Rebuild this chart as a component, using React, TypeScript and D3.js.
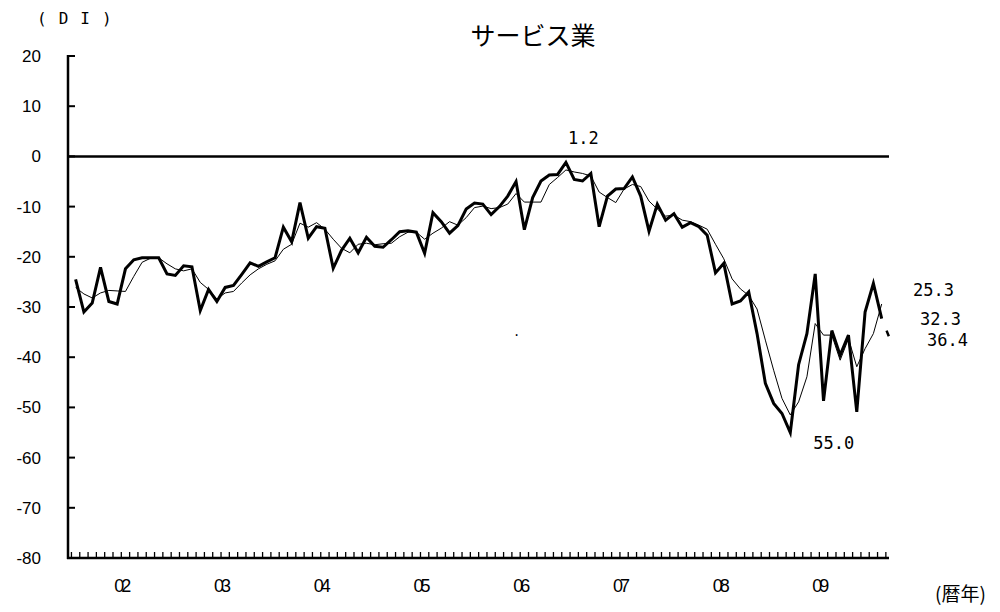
import React from "react";
import * as d3 from "d3";

// Monthly DI, Jan 2002 .. Feb 2010 (thick line)
const diMonthly: number[] = [
  -24.5, -31.0, -29.2, -22.1, -28.9, -29.4, -22.4, -20.6, -20.2, -20.2, -20.2, -23.4,
  -23.7, -21.8, -22.0, -30.7, -26.5, -28.9, -26.1, -25.7, -23.5, -21.2, -21.9, -21.0,
  -20.2, -14.1, -17.0, -9.2, -16.3, -14.0, -14.3, -22.3, -18.7, -16.3, -19.2, -16.1,
  -17.9, -18.1, -16.6, -15.0, -14.8, -15.1, -19.3, -11.2, -13.0, -15.3, -13.8, -10.5,
  -9.3, -9.5, -11.6, -10.0, -7.9, -5.0, -14.6, -8.2, -4.9, -3.7, -3.6, -1.2,
  -4.6, -4.9, -3.4, -14.0, -7.9, -6.5, -6.4, -4.1, -7.9, -14.9, -9.5, -12.7,
  -11.4, -14.1, -13.2, -14.0, -15.7, -23.2, -21.3, -29.4, -28.8, -27.0, -35.3, -45.2,
  -49.2, -51.2, -55.0, -41.5, -35.3, -23.4, -48.7, -34.7, -39.6, -35.6, -50.9, -31.0,
  -25.3, -32.3,
];

// Smoothed DI (thin line)
const diSmoothed: number[] = [
  -26.1, -27.4, -28.2, -27.2, -26.7, -26.8, -26.9, -23.9, -21.1, -20.3, -20.2, -21.4,
  -22.4, -22.8, -22.4, -25.1, -26.5, -28.4, -27.2, -26.9, -25.2, -23.6, -22.4, -21.5,
  -20.8, -18.5, -17.5, -13.3, -14.1, -13.2, -14.5, -16.5, -18.3, -19.2, -17.5, -17.3,
  -17.6, -17.4, -17.3, -16.0, -15.1, -15.1, -16.5, -15.3, -14.3, -13.0, -13.7, -12.2,
  -10.2, -9.9, -10.4, -10.2, -9.5, -7.4, -9.1, -9.1, -9.1, -5.6, -4.2, -2.7,
  -3.1, -3.4, -3.9, -7.1, -8.2, -9.2, -6.5, -5.6, -6.0, -8.9, -10.5, -11.9,
  -11.7, -12.7, -13.0, -13.7, -14.5, -17.5, -20.4, -24.4, -26.4, -27.7, -30.4, -36.6,
  -42.6, -48.2, -51.5, -48.9, -43.9, -33.3, -35.6, -35.6, -40.6, -36.3, -41.9, -38.3,
  -35.3, -29.4,
];

// Outlook value (next month)
const outlookIndex = 98;
const outlookValue = -36.4;

const yTicks: number[] = [20, 10, 0, -10, -20, -30, -40, -50, -60, -70, -80];
const yearLabels: string[] = ["02", "03", "04", "05", "06", "07", "08", "09"];

const peakLabel = { index: 59, value: -1.2, text: "1.2" };
const troughLabel = { index: 86, value: -55.0, text: "55.0" };
const endLabels = [
  { value: -25.3, text: "25.3" },
  { value: -32.3, text: "32.3" },
  { value: -36.4, text: "36.4" },
];

export default function App() {
  const W = 1000;
  const H = 612;
  const x = d3.scaleLinear().domain([0, 97]).range([75.6, 881.7]);
  const y = d3.scaleLinear().domain([-80, 20]).range([558, 56]);
  const axisLeft = 68;
  const axisRight = 889;

  const line = d3
    .line<number>()
    .x((_, i) => x(i))
    .y((d) => y(d));

  const monthTicks = d3.range(0, 99).map((k) => x(k - 0.5));
  const lastI = diMonthly.length - 1;
  const monoFont = "'DejaVu Sans Mono', 'Liberation Mono', monospace";
  const sansFont = "'Liberation Sans', Arial, sans-serif";
  const cjkFont = "'Noto Sans CJK JP', sans-serif";
  const endOffsets = [13, 6, 7];

  return (
    <svg width={W} height={H} style={{ display: "block", position: "absolute", left: 0, top: 0 }}>
      <rect width={W} height={H} fill="#fff" />
      {/* title */}
      <text x={533} y={45} textAnchor="middle" fontFamily={cjkFont} fontSize={25} fill="#000">
        サービス業
      </text>
      <text x={37} y={24} fontFamily={monoFont} fontSize={16} letterSpacing={1.2} fill="#000" xmlSpace="preserve">
        {"( D I )"}
      </text>

      {/* y tick labels */}
      {yTicks.map((t) => (
        <text key={t} x={41} y={y(t) + 6} textAnchor="end" fontFamily={sansFont} fontSize={17} fill="#000">
          {t}
        </text>
      ))}
      {/* y ticks */}
      {yTicks.map((t) => (
        <line key={"yt" + t} x1={axisLeft - 1} x2={axisLeft + 7} y1={y(t)} y2={y(t)} stroke="#000" strokeWidth={2} />
      ))}
      {/* month ticks */}
      {monthTicks.map((mx, k) => (
        <line key={"mt" + k} x1={mx} x2={mx} y1={y(-80)} y2={y(-80) - 6} stroke="#000" strokeWidth={1.3} />
      ))}
      {/* year labels */}
      {yearLabels.map((lab, i) => (
        <text key={lab} x={x(i * 12 + 5.5)} y={592} textAnchor="middle" fontFamily={sansFont} fontSize={18} letterSpacing={-3} fill="#000">
          {lab}
        </text>
      ))}
      <text x={935} y={601} fontFamily={cjkFont} fontSize={19} fill="#000">
        (暦年)
      </text>

      {/* axes */}
      <line x1={axisLeft} x2={axisLeft} y1={y(20) - 1} y2={y(-80) + 1} stroke="#000" strokeWidth={2.5} />
      <line x1={axisLeft - 1} x2={axisRight} y1={y(-80)} y2={y(-80)} stroke="#000" strokeWidth={2.5} />
      <line x1={axisLeft} x2={axisRight} y1={y(0)} y2={y(0)} stroke="#000" strokeWidth={2.5} />

      {/* series */}
      <path d={line(diSmoothed) ?? ""} fill="none" stroke="#000" strokeWidth={1} strokeLinejoin="round" />
      <path d={line(diMonthly) ?? ""} fill="none" stroke="#000" strokeWidth={3} strokeLinejoin="miter" />
      <line
        x1={x(lastI)}
        y1={y(diMonthly[lastI])}
        x2={x(outlookIndex)}
        y2={y(outlookValue)}
        stroke="#000"
        strokeWidth={2.5}
        strokeDasharray="0 13 6 100"
      />

      {/* labels */}
      <text x={x(peakLabel.index) + 2} y={y(0) - 12} fontFamily={monoFont} fontSize={17} fill="#000">
        {peakLabel.text}
      </text>
      <text x={x(troughLabel.index) + 23} y={y(troughLabel.value) + 16} fontFamily={monoFont} fontSize={17} fill="#000">
        {troughLabel.text}
      </text>
      {endLabels.map((l, i) => (
        <text key={l.text} x={913 + i * 7} y={y(l.value) + endOffsets[i]} fontFamily={monoFont} fontSize={17} fill="#000">
          {l.text}
        </text>
      ))}
      <text x={513} y={336} fontFamily={monoFont} fontSize={12} fill="#000">.</text>
    </svg>
  );
}
